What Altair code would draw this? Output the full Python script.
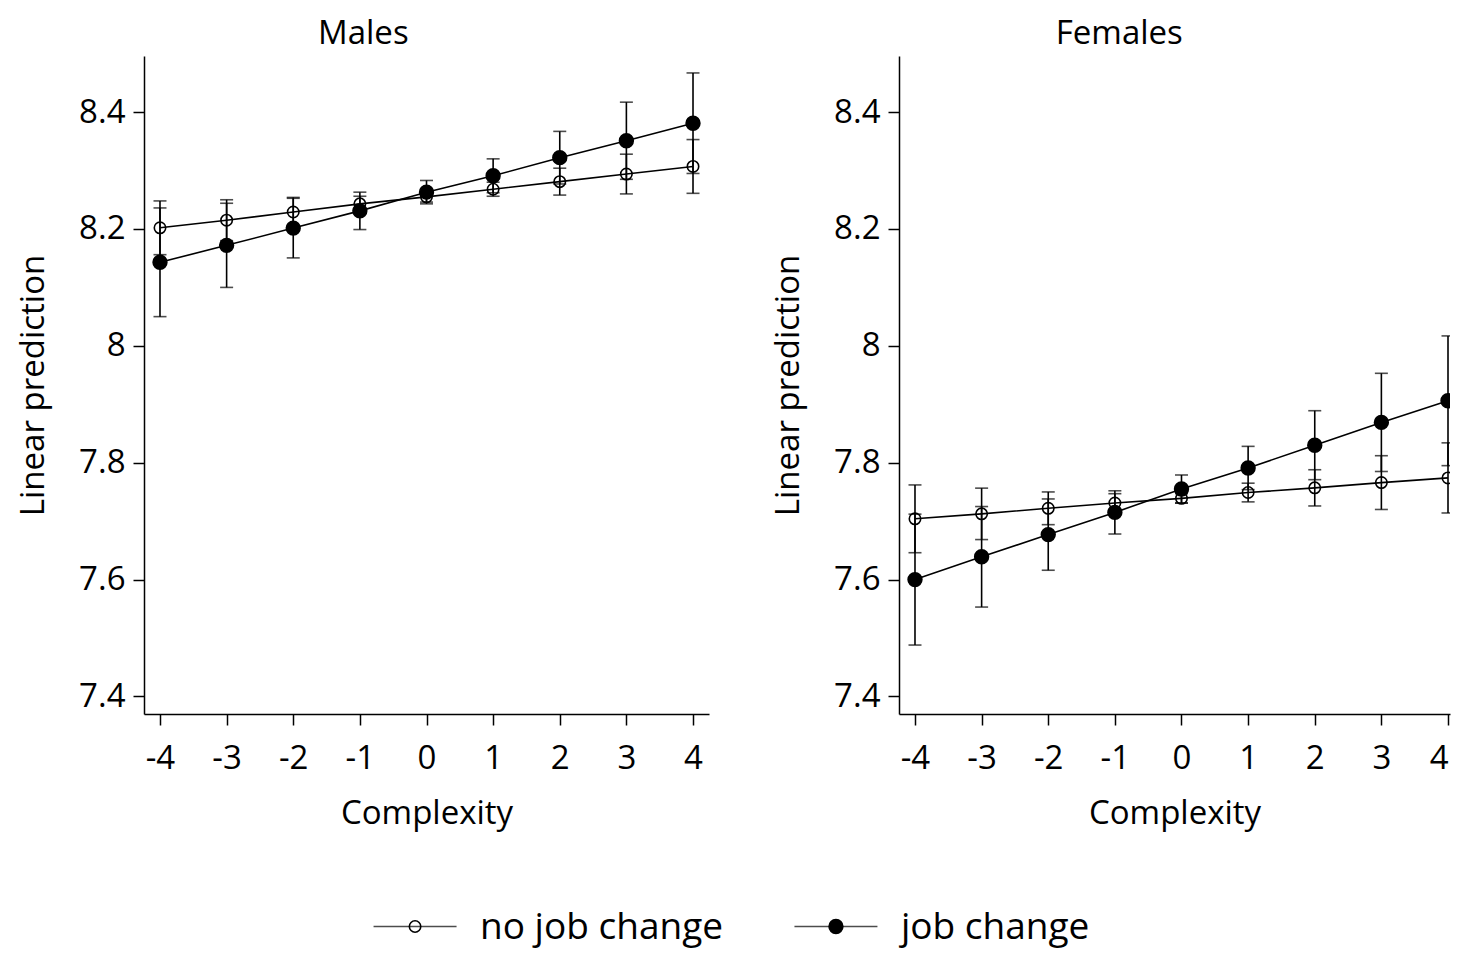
import altair as alt
import pandas as pd

complexity = [-4, -3, -2, -1, 0, 1, 2, 3, 4]
groups = ["no job change", "job change"]
y_ticks = [7.4, 7.6, 7.8, 8.0, 8.2, 8.4]

# Males
males_nochange = [8.202, 8.215, 8.229, 8.243, 8.255, 8.268, 8.281, 8.294, 8.307]
males_nochange_ci = [0.046, 0.035, 0.025, 0.013, 0.009, 0.012, 0.023, 0.034, 0.046]
males_change = [8.143, 8.172, 8.2015, 8.231, 8.263, 8.291, 8.322, 8.351, 8.381]
males_change_ci = [0.093, 0.072, 0.051, 0.032, 0.020, 0.029, 0.045, 0.066, 0.086]

# Females
females_nochange = [7.704, 7.7125, 7.722, 7.731, 7.739, 7.749, 7.757, 7.766, 7.774]
females_nochange_ci = [0.058, 0.044, 0.028, 0.016, 0.008, 0.016, 0.031, 0.046, 0.060]
females_change = [7.600, 7.639, 7.677, 7.715, 7.755, 7.791, 7.830, 7.869, 7.906]
females_change_ci = [0.112, 0.086, 0.061, 0.037, 0.024, 0.037, 0.059, 0.084, 0.111]

FONT = "Open Sans"
FS = 33

fill_scale = alt.Scale(domain=groups, range=["transparent", "black"])
size_scale = alt.Scale(domain=groups, range=[130, 190])


def make_df(nochange, nochange_ci, change, change_ci):
    rows = []
    for g, est, ci in [(groups[0], nochange, nochange_ci), (groups[1], change, change_ci)]:
        for x, e, h in zip(complexity, est, ci):
            rows.append({"x": x, "y": e, "lo": e - h, "hi": e + h, "group": g})
    return pd.DataFrame(rows)


df_m = make_df(males_nochange, males_nochange_ci, males_change, males_change_ci)
df_f = make_df(females_nochange, females_nochange_ci, females_change, females_change_ci)


def panel(df, title, xdomain, width, last_right, title_dx):
    base = alt.Chart(df)
    xs = alt.X("x:Q", scale=alt.Scale(domain=xdomain, nice=False, zero=False),
               axis=alt.Axis(values=complexity, title="Complexity",
                             labelExpr="'' + datum.value",
                             labelAlign={"condition": {"test": "datum.value == 4 && " + last_right,
                                                       "value": "right"},
                                         "value": "center"}))
    ys = alt.Y("y:Q", scale=alt.Scale(domain=[7.37, 8.496], nice=False, zero=False),
               axis=alt.Axis(values=y_ticks, title="Linear prediction", format="~g"))
    line = base.mark_line(color="black", strokeWidth=1.6, clip=True).encode(
        x=xs, y=ys, detail="group:N")
    rule = base.mark_rule(color="black", strokeWidth=1.6, clip=True).encode(
        x="x:Q", y="lo:Q", y2="hi:Q")
    cap_lo = base.mark_tick(color="black", orient="horizontal", size=13,
                            thickness=1.6, clip=True).encode(x="x:Q", y="lo:Q")
    cap_hi = base.mark_tick(color="black", orient="horizontal", size=13,
                            thickness=1.6, clip=True).encode(x="x:Q", y="hi:Q")
    pts = base.mark_point(filled=True, stroke="black", strokeWidth=1.6,
                          opacity=1, clip=True).encode(
        x="x:Q", y="y:Q",
        fill=alt.Fill("group:N", scale=fill_scale, legend=None),
        size=alt.Size("group:N", scale=size_scale, legend=None),
    )
    return alt.layer(line, rule, cap_lo, cap_hi, pts).properties(
        width=width, height=658,
        title=alt.Title(title, font=FONT, fontSize=FS, fontWeight="normal",
                        color="black", offset=5, frame="bounds", anchor="middle",
                        dx=title_dx),
    )


left = panel(df_m, "Males", [-4.24, 4.24], 565, "false", 0)
right = panel(df_f, "Females", [-4.24, 4.03], 551, "true", 8)

# legend drawn as a small chart of its own
leg_df = pd.DataFrame({"group": groups})
leg_base = alt.Chart(leg_df)
leg_x = alt.X("group:N", sort=groups, axis=None,
              scale=alt.Scale(type="point", domain=groups, padding=0.644))
leg_line = leg_base.mark_tick(color="black", orient="horizontal", size=83,
                              thickness=1.6).encode(x=leg_x, y=alt.value(18.5))
leg_pts = leg_base.mark_point(filled=True, stroke="black", strokeWidth=1.6,
                              opacity=1).encode(
    x=leg_x, y=alt.value(18.5),
    fill=alt.Fill("group:N", scale=fill_scale, legend=None),
    size=alt.Size("group:N", scale=alt.Scale(domain=groups, range=[70, 150]), legend=None),
)
leg_txt = leg_base.mark_text(align="left", baseline="middle", dx=65, dy=1,
                             font=FONT, fontSize=37, color="black").encode(
    x=leg_x, y=alt.value(18.5), text="group:N")
legend = alt.layer(leg_line, leg_pts, leg_txt).properties(width=963, height=37)

chart = alt.vconcat(
    alt.hconcat(left, right, spacing=62),
    legend,
    spacing=76,
).properties(
    padding={"left": 9, "top": 9, "right": 0, "bottom": 3}
).configure_axis(
    grid=False, domainColor="black", domainWidth=1.5, tickColor="black",
    tickWidth=1.5, tickSize=11, labelFont=FONT, labelFontSize=FS, labelColor="black",
    titleFont=FONT, titleFontSize=FS, titleFontWeight="normal", titleColor="black",
    labelPadding=8,
).configure_axisX(labelPadding=17, titlePadding=22).configure_axisY(
    titlePadding=28
).configure_view(stroke="transparent")

chart.save("out.html", embed_options={"renderer": "svg", "actions": False})
